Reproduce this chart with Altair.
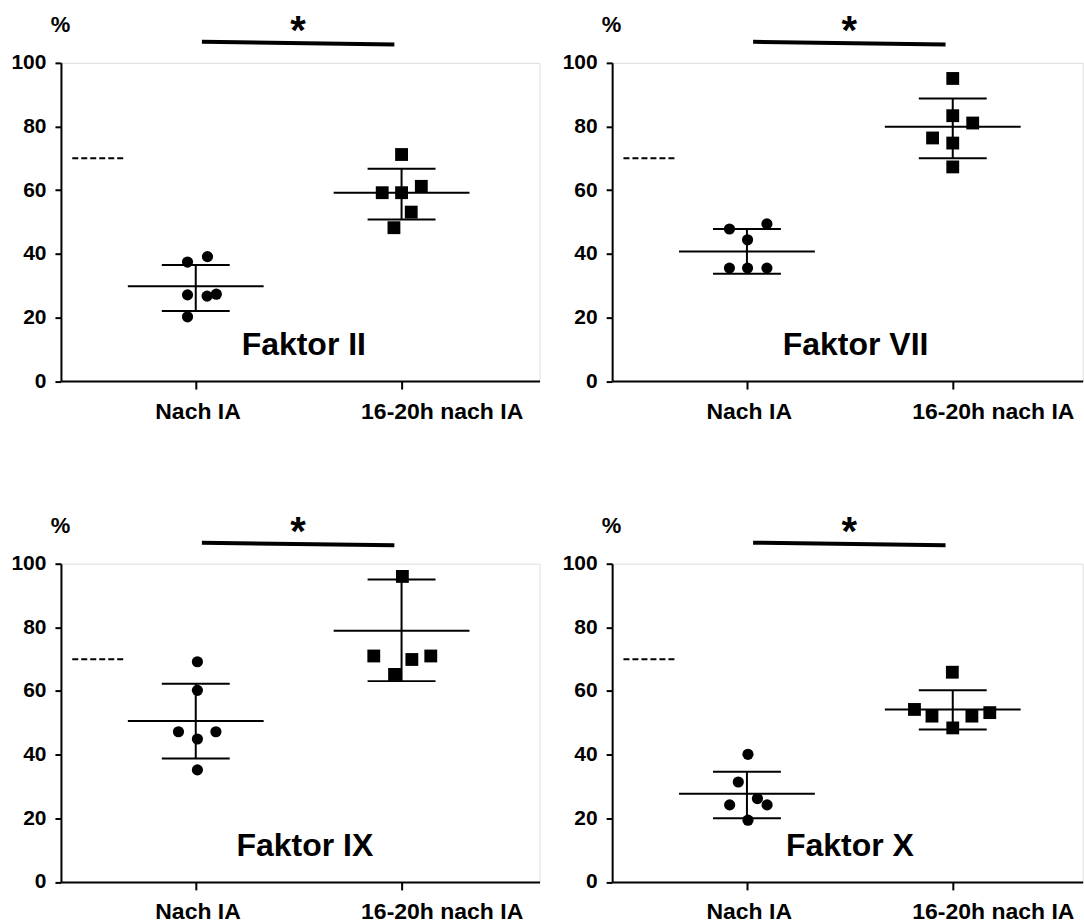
import altair as alt
import pandas as pd

# ---------------- data ----------------
groups = ["Nach IA", "16-20h nach IA"]
panel_titles = ["Faktor II", "Faktor VII", "Faktor IX", "Faktor X"]
ref_level = 70  # dashed reference level (%)

# individual values (%) and horizontal scatter offsets, per panel
f2_nach = [37.4, 39.1, 27.1, 26.7, 27.3, 20.2]
f2_nach_dx = [-0.04, 0.057, -0.04, 0.055, 0.10, -0.04]
f2_post = [71.2, 59.2, 59.2, 61.2, 53.1, 48.2]
f2_post_dx = [0.0, -0.094, 0.0, 0.096, 0.047, -0.037]
f2_mean = [29.8, 59.2]
f2_lo = [22.0, 50.8]
f2_hi = [36.5, 66.7]

f7_nach = [47.8, 49.4, 44.4, 35.5, 35.5, 35.5]
f7_nach_dx = [-0.085, 0.097, 0.003, -0.085, 0.003, 0.097]
f7_post = [95.1, 83.4, 81.1, 76.4, 74.8, 67.3]
f7_post_dx = [0.0, 0.0, 0.097, -0.098, 0.0, 0.0]
f7_mean = [40.7, 79.9]
f7_lo = [33.7, 70.0]
f7_hi = [47.8, 88.8]

f9_nach = [69.2, 60.2, 47.2, 47.2, 44.9, 35.2]
f9_nach_dx = [0.008, 0.008, -0.084, 0.098, 0.008, 0.008]
f9_post = [96.0, 71.0, 69.9, 71.0, 65.2]
f9_post_dx = [0.004, -0.135, 0.05, 0.142, -0.034]
f9_mean = [50.6, 78.9]
f9_lo = [38.8, 63.1]
f9_hi = [62.3, 95.0]

f10_nach = [40.1, 31.4, 26.2, 24.2, 24.2, 19.4]
f10_nach_dx = [0.005, -0.042, 0.051, 0.098, -0.084, 0.005]
f10_post = [65.9, 54.2, 52.1, 48.4, 52.1, 53.2]
f10_post_dx = [-0.002, -0.186, -0.101, 0.0, 0.093, 0.18]
f10_mean = [27.7, 54.2]
f10_lo = [20.0, 47.9]
f10_hi = [34.6, 60.2]

y_ticks = [0, 20, 40, 60, 80, 100]

panels_data = [
    (f2_nach, f2_nach_dx, f2_post, f2_post_dx, f2_mean, f2_lo, f2_hi),
    (f7_nach, f7_nach_dx, f7_post, f7_post_dx, f7_mean, f7_lo, f7_hi),
    (f9_nach, f9_nach_dx, f9_post, f9_post_dx, f9_mean, f9_lo, f9_hi),
    (f10_nach, f10_nach_dx, f10_post, f10_post_dx, f10_mean, f10_lo, f10_hi),
]

FONT = "Liberation Sans"
UNIT = 206.0          # px per x unit
X0 = 0.345
PLOT_H = 318.5
widths = [479, 471, 479, 471]
title_x = [1.525, 1.528, 1.53, 1.50]

label_expr = "datum.value == 1 ? '%s' : (datum.value == 2 ? '%s' : '')" % (groups[0], groups[1])


def make_panel(i):
    nach, nach_dx, post, post_dx, mean, lo, hi = panels_data[i]
    w = widths[i]
    xs = alt.Scale(domain=[X0, X0 + w / UNIT], nice=False, zero=False)
    ys = alt.Scale(domain=[0, 100], nice=False, zero=True)
    xaxis = alt.Axis(values=[1, 2], labelExpr=label_expr, title=None, grid=False,
                     labelAlign="left", labelOffset=-41, labelFontSize=23,
                     labelFontWeight="bold", labelPadding=11, tickSize=8,
                     tickWidth=2, domainWidth=2, labelColor="black",
                     domainColor="black", tickColor="black", labelFont=FONT)
    yaxis = alt.Axis(values=y_ticks, title="%", titleAngle=0, titleX=-1, titleY=-38.6,
                     titleAlign="center", titleBaseline="middle", titleFontSize=22,
                     titleFontWeight="bold", titleFont=FONT, titleColor="black",
                     labelFontSize=21, labelFontWeight="bold", labelPadding=9,
                     tickSize=6, tickWidth=2, domainWidth=2, grid=False,
                     labelColor="black", domainColor="black", tickColor="black",
                     labelFont=FONT)

    def X(field):
        return alt.X(field, type="quantitative", scale=xs, axis=xaxis)

    def Y(field):
        return alt.Y(field, type="quantitative", scale=ys, axis=yaxis)

    pts = pd.DataFrame({
        "x": [1 + d for d in nach_dx] + [2 + d for d in post_dx],
        "y": nach + post,
        "group": [groups[0]] * len(nach) + [groups[1]] * len(post),
    })
    summ = pd.DataFrame({"g": [1, 2], "mean": mean, "lo": lo, "hi": hi})
    ref = pd.DataFrame({"x1": [0.40], "x2": [0.65], "y": [ref_level]})
    sig = pd.DataFrame({"x1": [1.03], "x2": [1.965], "y1": [106.6], "y2": [105.8]})
    star = pd.DataFrame({"x": [(1.03 + 1.965) / 2], "y": [109.6], "t": ["*"]})
    ttl = pd.DataFrame({"x": [title_x[i]], "y": [11.2], "t": [panel_titles[i]]})

    ref_l = alt.Chart(ref).mark_rule(color="black", strokeWidth=2, strokeDash=[6, 3]).encode(
        x=X("x1"), x2="x2", y=Y("y"))
    mean_l = alt.Chart(summ).transform_calculate(
        xa="datum.g - 0.33", xb="datum.g + 0.33").mark_rule(color="black", strokeWidth=2).encode(
        x=X("xa"), x2="xb", y=Y("mean"))
    cap_lo = alt.Chart(summ).transform_calculate(
        xa="datum.g - 0.165", xb="datum.g + 0.165").mark_rule(color="black", strokeWidth=2).encode(
        x=X("xa"), x2="xb", y=Y("lo"))
    cap_hi = alt.Chart(summ).transform_calculate(
        xa="datum.g - 0.165", xb="datum.g + 0.165").mark_rule(color="black", strokeWidth=2).encode(
        x=X("xa"), x2="xb", y=Y("hi"))
    vert = alt.Chart(summ).mark_rule(color="black", strokeWidth=2).encode(
        x=X("g"), y=Y("lo"), y2="hi")
    points = alt.Chart(pts).mark_point(filled=True, color="black", opacity=1).encode(
        x=X("x"), y=Y("y"),
        shape=alt.Shape("group:N", scale=alt.Scale(domain=groups, range=["circle", "square"]), legend=None),
        size=alt.Size("group:N", scale=alt.Scale(domain=groups, range=[125, 165]), legend=None),
    )
    sig_l = alt.Chart(sig).mark_rule(color="black", strokeWidth=4).encode(
        x=X("x1"), x2="x2", y=Y("y1"), y2="y2")
    star_t = alt.Chart(star).mark_text(font=FONT, fontSize=40, fontWeight="bold",
                                       baseline="middle", align="center", color="black").encode(
        x=X("x"), y=Y("y"), text="t:N")
    ttl_t = alt.Chart(ttl).mark_text(font=FONT, fontSize=32, fontWeight="bold",
                                     baseline="middle", align="center", color="black").encode(
        x=X("x"), y=Y("y"), text="t:N")

    return alt.layer(ref_l, mean_l, cap_lo, cap_hi, vert, points, sig_l, star_t, ttl_t).properties(
        width=w, height=PLOT_H)


chart = alt.concat(*[make_panel(i) for i in range(4)], columns=2,
                   spacing=alt.RowColnumber(row=182.3, column=72.7), bounds="flush").properties(
    padding={"left": 10, "top": 10.5, "right": 0, "bottom": 0}
).configure_view(stroke=None).configure(font=FONT)

chart.save("out.html", embed_options={"renderer": "svg", "actions": False})
